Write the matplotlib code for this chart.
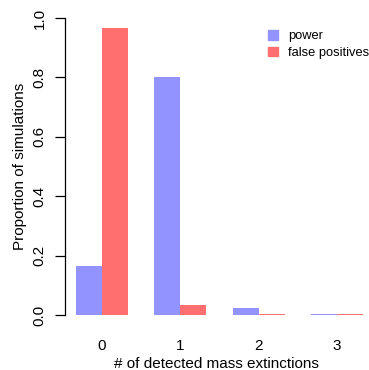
import matplotlib
matplotlib.use("Agg")
import matplotlib.pyplot as plt
import numpy as np

categories = ["0", "1", "2", "3"]
power = [0.165, 0.80, 0.025, 0.005]
false_positives = [0.965, 0.034, 0.002, 0.002]
yticks = [0.0, 0.2, 0.4, 0.6, 0.8, 1.0]

plt.rcParams['font.family'] = ['Liberation Sans', 'DejaVu Sans']
W, H = 369, 370
fig = plt.figure(figsize=(W/100, H/100), dpi=100)
left_px, right_px = 64.5, 369
top_px, bot_px = 18, 315
ax = fig.add_axes([left_px/W, 1 - bot_px/H, (right_px-left_px)/W, (bot_px-top_px)/H])

c_power = "#9393FF"
c_fp = "#FF6F6F"
x0 = 1 + 3*np.arange(len(categories))
ax.bar(x0, power, width=1, align='edge', color=c_power, linewidth=0)
ax.bar(x0 + 1, false_positives, width=1, align='edge', color=c_fp, linewidth=0)

ppu = 26.1
ax.set_xlim(0.56, 0.56 + (right_px-left_px)/ppu)
ax.set_ylim(0, 1)
for s in ['top', 'right', 'bottom']:
    ax.spines[s].set_visible(False)
ax.spines['left'].set_linewidth(0.9)
ax.set_yticks(yticks)
ax.set_yticklabels([f"{v:.1f}" for v in yticks], rotation=90, va='center', fontsize=11)
ax.tick_params(axis='y', length=7, width=0.9, pad=6)
ax.set_xticks(x0 + 1)
ax.set_xticklabels(categories, fontsize=11)
ax.tick_params(axis='x', length=0, pad=17)
ax.set_xlabel("# of detected mass extinctions", fontsize=11, labelpad=3)
ax.set_ylabel("Proportion of simulations", fontsize=11, labelpad=4)

ax.legend(handles=[plt.Rectangle((0,0),1,1,color=c_power), plt.Rectangle((0,0),1,1,color=c_fp)],
          labels=["power", "false positives"], frameon=False, fontsize=9.3,
          loc='upper left', bbox_to_anchor=((263-left_px)/(right_px-left_px), 1.0 - 7/297),
          handlelength=0.75, handleheight=0.75, handletextpad=0.8, labelspacing=0.35,
          borderaxespad=0)
fig.savefig("out.png", dpi=100)
